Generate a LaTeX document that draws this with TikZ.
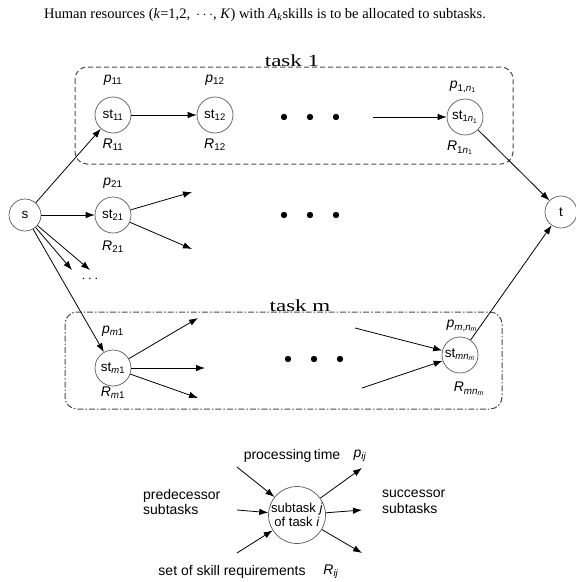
\documentclass[tikz,border=0pt]{standalone}
\usepackage{fontspec}
\setmainfont{Liberation Serif}
\setsansfont{Liberation Sans}
\usepackage{graphicx}
\usetikzlibrary{arrows.meta}
\newcommand{\sbs}[1]{\textsubscript{#1}}
\tikzset{
  stnode/.style  ={circle, draw=black!65, line width=0.7pt, minimum size=36pt, inner sep=0pt,
                   font=\sffamily\fontsize{13.5}{13.5}\selectfont},
  endnode/.style ={stnode, minimum size=32pt},
  keynode/.style ={stnode, minimum size=57pt, align=center, font=\sffamily\fontsize{13}{14}\selectfont},
  lbl/.style     ={font=\sffamily\fontsize{14}{14}\selectfont, inner sep=0pt},
  keylbl/.style  ={font=\sffamily\fontsize{14}{15.5}\selectfont, inner sep=0pt, align=left},
  tasklbl/.style ={font=\fontsize{17}{17}\selectfont, inner sep=0pt, anchor=base},
  arr/.style     ={-{Latex[length=9pt,width=6.5pt]}, line width=0.8pt},
  taskbox/.style ={draw=black!70, line width=1pt, rounded corners=12pt},
  dotmark/.style ={fill=black},
}
\begin{document}
\begin{tikzpicture}[x=1pt, y=-1pt]
\useasboundingbox (0,0) rectangle (576,582);
% title
\node[inner sep=0pt, font=\fontsize{14.5}{16}\selectfont] (title) at (265,15)
  {Human resources (\textit{k}=1,2,~\,$\cdots$, \textit{K}) with \textit{A}\sbs{\textit{k}}skills is to be allocated to subtasks.};

% task boxes
\draw[taskbox, dash pattern=on 5pt off 3pt] (75,67) rectangle (513,164);
\draw[taskbox, dash pattern=on 6pt off 2pt on 1.5pt off 2pt] (65,312) rectangle (502,409);
\node[tasklbl] (task1) at (292,66) {\scalebox{1.35}[1]{task 1}};
\node[tasklbl] (taskm) at (300,311) {\scalebox{1.35}[1]{task m}};

% source and sink
\node[endnode] (s) at (25,215) {s};
\node[endnode] (t) at (561,212) {t};

% task 1
\node[stnode] (st11) at (113,115) {st\sbs{11}};
\node[stnode] (st12) at (215,115) {st\sbs{12}};
\node[stnode] (st1n) at (465,117) {st\sbs{1\textit{n}\sbs{1}}};
\node[lbl] (p11) at (113,80) {\textit{p}\sbs{11}};
\node[lbl] (R11) at (113,145) {\textit{R}\sbs{11}};
\node[lbl] (p12) at (215,80) {\textit{p}\sbs{12}};
\node[lbl] (R12) at (215,145) {\textit{R}\sbs{12}};
\node[lbl] (p1n) at (463,87) {\textit{p}\sbs{1,\textit{n}\sbs{1}}};
\node[lbl] (R1n) at (460,148) {\textit{R}\sbs{1\textit{n}\sbs{1}}};
\coordinate (in1n) at (373,117);

% task 2
\node[stnode] (st21) at (113,215) {st\sbs{21}};
\node[lbl] (p21) at (113,183) {\textit{p}\sbs{21}};
\node[lbl] (R21) at (113,247) {\textit{R}\sbs{21}};
\coordinate (out21a) at (192,192);
\coordinate (out21b) at (192,249);

% more tasks
\coordinate (sa) at (72,270);
\coordinate (sb) at (90,270);
\node[lbl] (more) at (90,279) {$\cdots$};

% task m
\node[stnode] (stm1) at (113,368) {st\sbs{\textit{m}1}};
\node[stnode] (stmn) at (460,355) {st\sbs{\textit{mn}\sbs{\textit{m}}}};
\node[lbl] (pm1) at (113,331) {\textit{p}\sbs{\textit{m}1}};
\node[lbl] (Rm1) at (113,393) {\textit{R}\sbs{\textit{m}1}};
\node[lbl] (pmn) at (462,326) {\textit{p}\sbs{\textit{m},\textit{n}\sbs{\textit{m}}}};
\node[lbl] (Rmn) at (469,389) {\textit{R}\sbs{\textit{mn}\sbs{\textit{m}}}};
\coordinate (outm1a) at (198,318);
\coordinate (outm1b) at (205,368);
\coordinate (outm1c) at (198,398);
\coordinate (inmna) at (355,328);
\coordinate (inmnb) at (362,388);

% dots
\foreach \y/\dx in {117/0, 215/0, 359/4}
  \foreach \x in {284,310,336}
    \fill[dotmark] (\x+\dx,\y) circle (3.2pt);

% edges
\draw[arr] (s) -- (st11);
\draw[arr] (s) -- (st21);
\draw[arr] (s) -- (sa);
\draw[arr] (s) -- (sb);
\draw[arr] (s) -- (stm1);
\draw[arr] (st11) -- (st12);
\draw[arr] (in1n) -- (st1n);
\draw[arr] (st21) -- (out21a);
\draw[arr] (st21) -- (out21b);
\draw[arr] (stm1) -- (outm1a);
\draw[arr] (stm1) -- (outm1b);
\draw[arr] (stm1) -- (outm1c);
\draw[arr] (inmna) -- (stmn);
\draw[arr] (inmnb) -- (stmn);
\draw[arr] (st1n) -- (t);
\draw[arr] (stmn) -- (t);

% key
\node[keynode] (key) at (297,515) {subtask \textit{j}\\of task \textit{i}};
\node[keylbl] (ptime) at (292,456) {processing\,time};
\node[keylbl] (pij) at (360,456) {\textit{p}\sbs{\textit{ij}}};
\node[keylbl, anchor=west] (pred) at (143,502) {predecessor\\subtasks};
\node[keylbl, anchor=west] (succ) at (382,502) {successor\\subtasks};
\node[keylbl] (skill) at (232,572) {set of skill requirements};
\node[keylbl] (Rij) at (331,572) {\textit{R}\sbs{\textit{ij}}};
\coordinate (kin1) at (237,467);
\coordinate (kin2) at (237,510);
\coordinate (kin3) at (237,553);
\coordinate (kout1) at (362,468);
\coordinate (kout2) at (362,510);
\coordinate (kout3) at (362,553);
\draw[arr] (kin1) -- (key);
\draw[arr] (kin2) -- (key);
\draw[arr] (kin3) -- (key);
\draw[arr] (key) -- (kout1);
\draw[arr] (key) -- (kout2);
\draw[arr] (key) -- (kout3);
\end{tikzpicture}
\end{document}
